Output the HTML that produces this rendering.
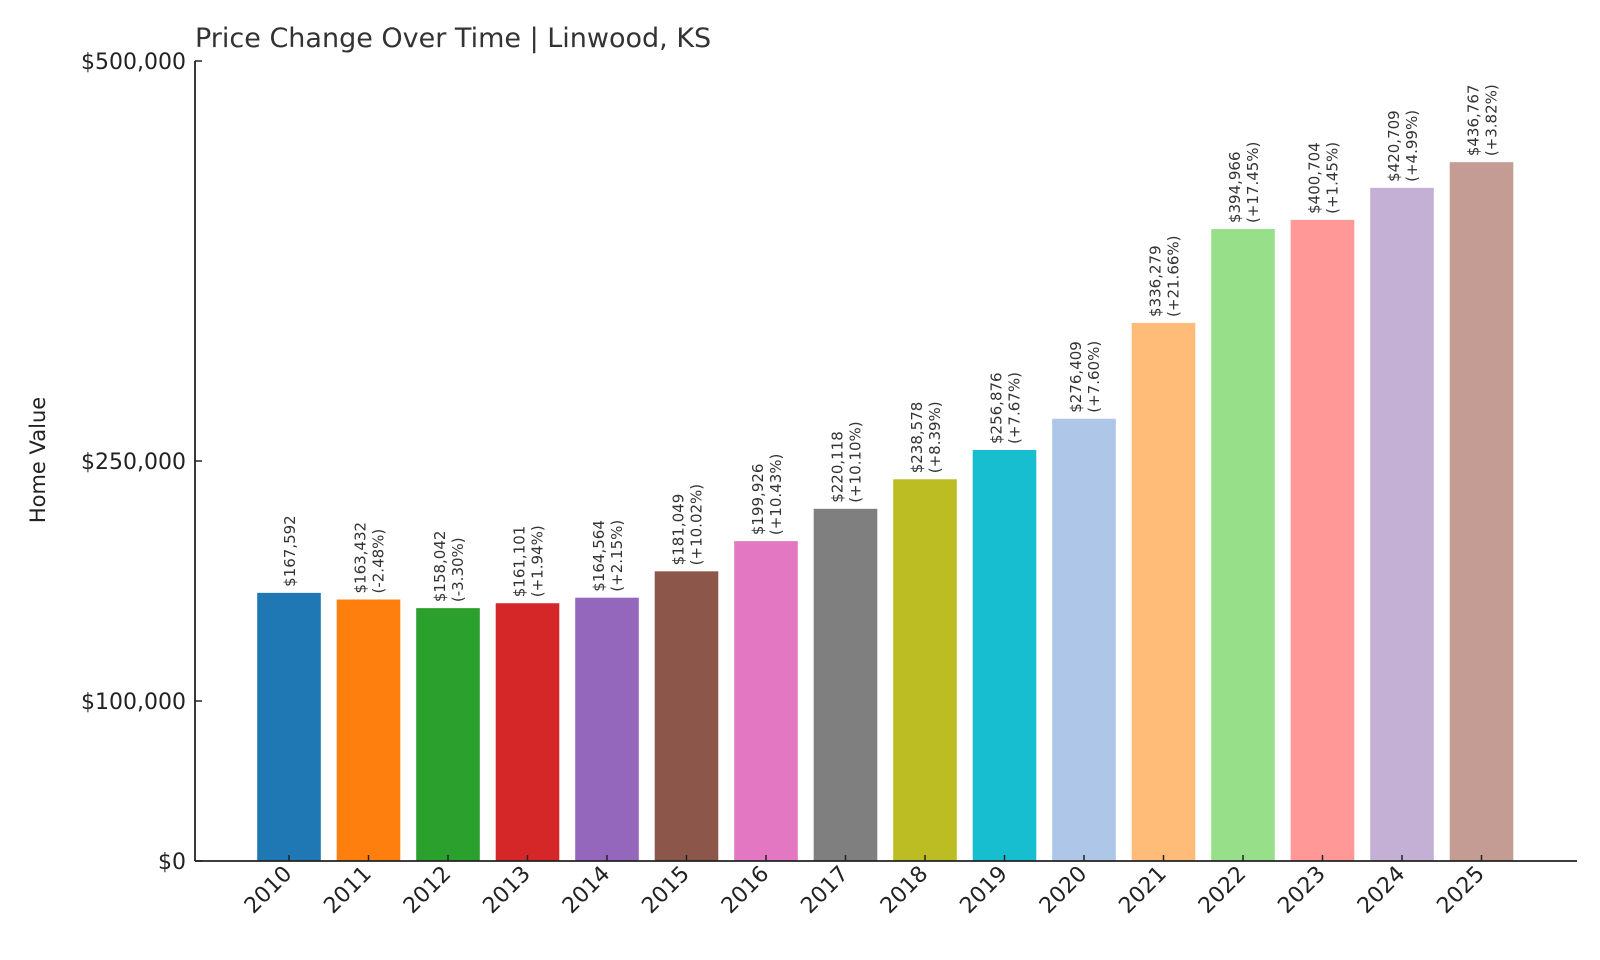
<!DOCTYPE html>
<html><head><meta charset="utf-8"><style>body{margin:0;background:#fff}svg{display:block;font-family:"DejaVu Sans","Liberation Sans",sans-serif}</style></head>
<body>
<svg id="chart" width="1600" height="960">
<text x="195" y="47" font-size="27" fill="#333">Price Change Over Time | Linwood, KS</text>
<text transform="translate(45,460) rotate(-90)" text-anchor="middle" font-size="21" fill="#222">Home Value</text>
<g id="bars"></g><g id="axes"></g>
</svg>
<script>
const years=["2010","2011","2012","2013","2014","2015","2016","2017","2018","2019","2020","2021","2022","2023","2024","2025"];
const values=[167592,163432,158042,161101,164564,181049,199926,220118,238578,256876,276409,336279,394966,400704,420709,436767];
const changes=["","-2.48%","-3.30%","+1.94%","+2.15%","+10.02%","+10.43%","+10.10%","+8.39%","+7.67%","+7.60%","+21.66%","+17.45%","+1.45%","+4.99%","+3.82%"];
const yTicks=[0,100000,250000,500000];
const yTickLabels=["$0","$100,000","$250,000","$500,000"];
const colors=["#1f77b4","#ff7f0e","#2ca02c","#d62728","#9467bd","#8c564b","#e377c2","#7f7f7f","#bcbd22","#17becf","#aec7e8","#ffbb78","#98df8a","#ff9896","#c5b0d5","#c49c94"];
const NS="http://www.w3.org/2000/svg";
const x0=289,step=79.5,bw=63.6,yBase=861,yTop=61,yMax=500000;
const xs=i=>x0+i*step;
const ys=v=>yBase-(v/yMax)*(yBase-yTop);
function mk(t,a,p){const e=document.createElementNS(NS,t);for(const k in a)e.setAttribute(k,a[k]);p.appendChild(e);return e;}
const bars=document.getElementById('bars'),axes=document.getElementById('axes');
values.forEach((v,i)=>{
 const r=mk('rect',{x:xs(i)-bw/2,y:ys(v),width:bw,height:yBase-ys(v),fill:colors[i]},bars);
 
 
 const ty=ys(v)-6;
 const lbl='$'+v.toLocaleString('en-US');
 if(!changes[i]){
  const t=mk('text',{transform:`translate(${xs(i)+6},${ty}) rotate(-90)`,'font-size':15,fill:'#333'},bars);t.textContent=lbl;
  
  
 }else{
  const t=mk('text',{transform:`translate(${xs(i)-3},${ty}) rotate(-90)`,'font-size':15,fill:'#333'},bars);t.textContent=lbl;
  
  
  const t2=mk('text',{transform:`translate(${xs(i)+15},${ty}) rotate(-90)`,'font-size':15,fill:'#333'},bars);t2.textContent='('+changes[i]+')';
  
  
 }
 mk('line',{x1:xs(i),x2:xs(i),y1:yBase,y2:yBase-6,stroke:'#222','stroke-width':1.5},axes);
 const xl=mk('text',{transform:`translate(${xs(i)+4},${yBase+14}) rotate(-45)`,'text-anchor':'end','font-size':22,fill:'#222'},axes);xl.textContent=years[i];
 
 
});
yTicks.forEach((v,i)=>{
 mk('line',{x1:195,x2:202,y1:ys(v),y2:ys(v),stroke:'#222','stroke-width':1.5},axes);
 const t=mk('text',{x:186,y:ys(v)+8,'text-anchor':'end','font-size':22,fill:'#222'},axes);t.textContent=yTickLabels[i];
 
 
});
const ya=mk('line',{x1:195,x2:195,y1:yTop,y2:yBase,stroke:'#222','stroke-width':1.8},axes);


const xa=mk('line',{x1:195,x2:1577,y1:yBase,y2:yBase,stroke:'#222','stroke-width':1.8},axes);


</script>
</body></html>
